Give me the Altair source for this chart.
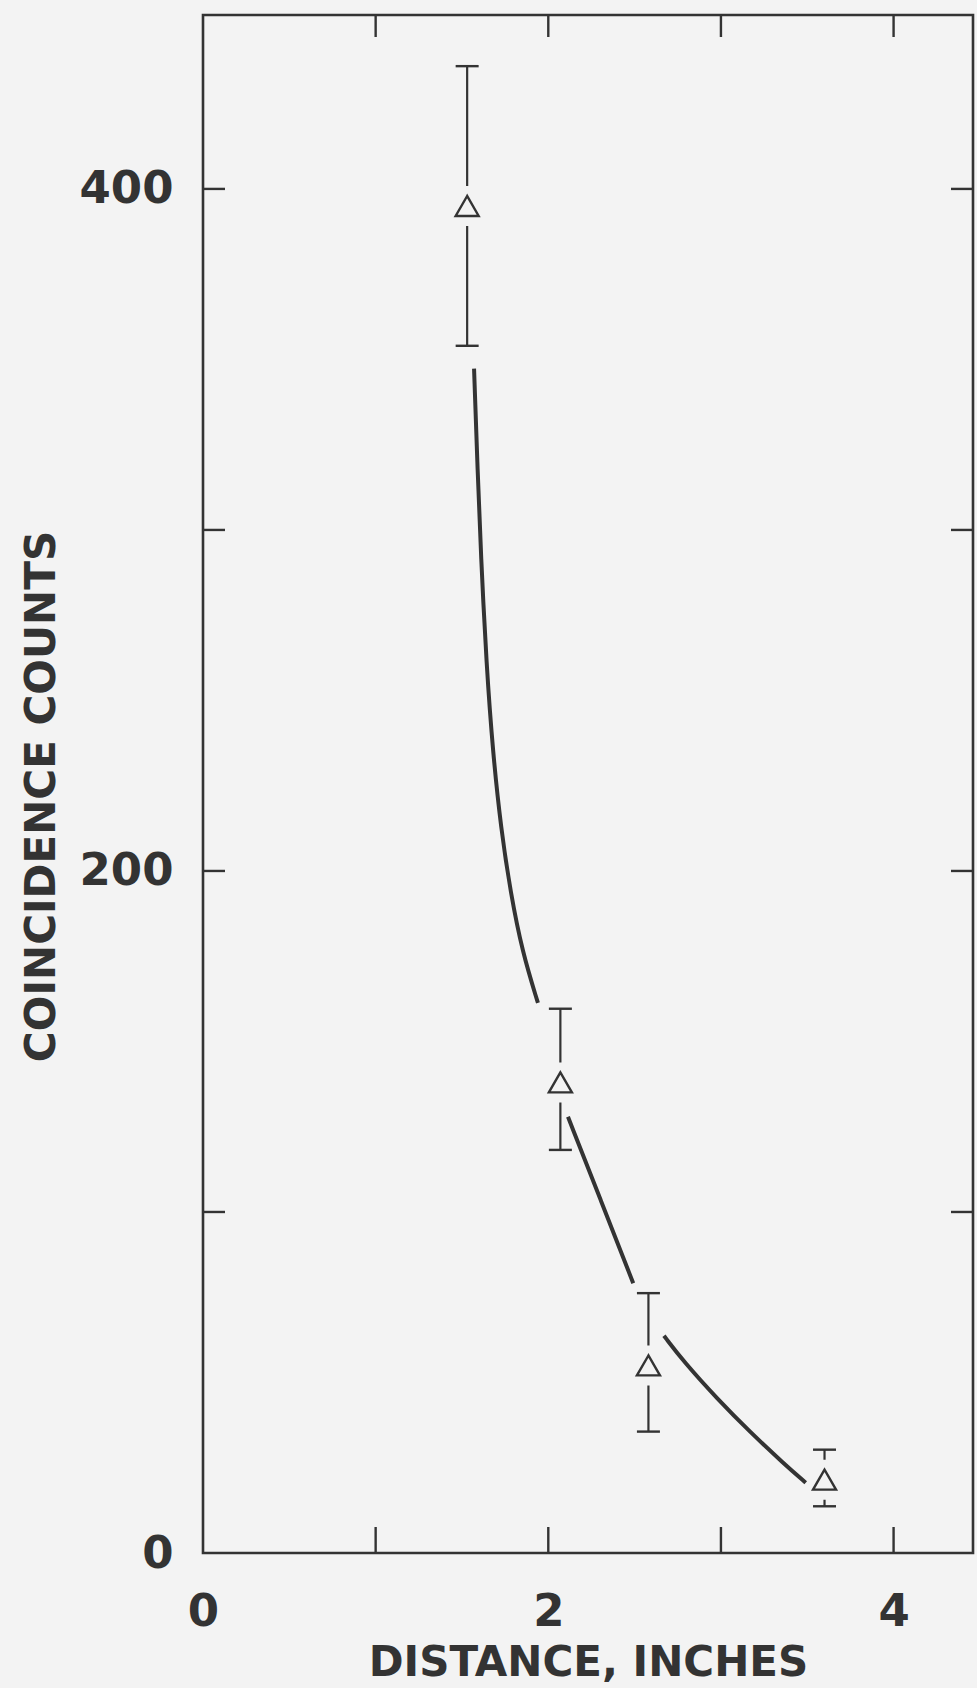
import altair as alt
import pandas as pd

# ---- data ----
distance = [1.53, 2.07, 2.58, 3.60]
counts = [395, 138, 55, 21.5]
err_hi = [436, 159.6, 76.2, 30.3]
err_lo = [354, 118.2, 35.6, 13.7]

curve_seg = [1, 1, 1, 1, 1, 1, 1, 1, 1,
             2, 2, 2,
             3, 3, 3, 3, 3, 3]
curve_x = [1.570, 1.589, 1.610, 1.642, 1.679, 1.726, 1.782, 1.850, 1.940,
           2.114, 2.303, 2.492,
           2.670, 2.786, 2.979, 3.172, 3.365, 3.491]
curve_y = [347.3, 319.6, 292.2, 260.3, 234.8, 212.4, 193.5, 176.2, 161.3,
           127.9, 103.6, 79.1,
           63.7, 56.0, 45.2, 35.3, 26.2, 20.6]

x_tick_values = [1, 2, 3, 4]
y_tick_values = [100, 200, 300, 400]
x_label_values = [0, 2, 4]
y_label_values = [0, 200, 400]

# ---- styling ----
BG = "#f3f3f3"
INK = "#333333"
W, H = 770, 1538
FONT = "DejaVu Sans"

pts = pd.DataFrame({"x": distance, "y": counts, "hi": err_hi, "lo": err_lo})
caps = pd.DataFrame({"x": distance * 2, "y": err_hi + err_lo})
curve = pd.DataFrame({"seg": curve_seg, "x": curve_x, "y": curve_y})
xt = pd.DataFrame({"v": x_tick_values})
yt = pd.DataFrame({"v": y_tick_values})

xscale = alt.Scale(domain=[0, 4.46], nice=False, zero=False)
yscale = alt.Scale(domain=[0, 451], nice=False, zero=False)

xaxis = alt.Axis(values=x_label_values, title="DISTANCE, INCHES", grid=False,
                 domain=False, ticks=False, tickSize=0, labelPadding=36,
                 labelFontSize=45, labelFont=FONT, labelColor=INK,
                 labelFontWeight="bold",
                 titleFontSize=42, titleFont=FONT, titleColor=INK,
                 titleFontWeight="bold", titleBaseline="middle",
                 titleY=109, labelFlush=False)
yaxis = alt.Axis(values=y_label_values, title="COINCIDENCE COUNTS", grid=False,
                 domain=False, ticks=False, tickSize=0, labelPadding=30,
                 labelFontSize=45, labelFont=FONT, labelColor=INK,
                 labelFontWeight="bold",
                 titleFontSize=42, titleFont=FONT, titleColor=INK,
                 titleFontWeight="bold", titleBaseline="middle",
                 titleX=-162, titleY=781, labelFlush=False)


def X(field):
    return alt.X(field, type="quantitative", scale=xscale, axis=xaxis)


def Y(field):
    return alt.Y(field, type="quantitative", scale=yscale, axis=yaxis)


bars = alt.Chart(pts).mark_rule(color=INK, strokeWidth=2.2).encode(
    x=X("x"), y=Y("lo"), y2="hi:Q",
)
cap_marks = alt.Chart(caps).mark_tick(orient="horizontal", color=INK, size=23,
                                      thickness=2.4, opacity=1).encode(
    x=X("x"), y=Y("y"),
)
mask = alt.Chart(pts).mark_point(shape="square", filled=True, size=1600,
                                 color=BG, opacity=1, strokeWidth=0).encode(
    x=X("x"), y=Y("y"),
)
tri = alt.Chart(pts).mark_point(shape="triangle-up", filled=False, size=529,
                                color=INK, strokeWidth=2.4, opacity=1).encode(
    x=X("x"), y=Y("y"),
)
line = alt.Chart(curve).mark_line(color=INK, strokeWidth=4,
                                  interpolate="basis").encode(
    x=X("x"), y=Y("y"), detail="seg:N",
)

tick_len = 22
bottom_ticks = alt.Chart(xt).mark_rule(color=INK, strokeWidth=2.4).encode(
    x=X("v"), y=alt.value(H), y2=alt.value(H - 26))
top_ticks = alt.Chart(xt).mark_rule(color=INK, strokeWidth=2.4).encode(
    x=X("v"), y=alt.value(0), y2=alt.value(tick_len))
left_ticks = alt.Chart(yt).mark_rule(color=INK, strokeWidth=2.4).encode(
    y=Y("v"), x=alt.value(0), x2=alt.value(tick_len))
right_ticks = alt.Chart(yt).mark_rule(color=INK, strokeWidth=2.4).encode(
    y=Y("v"), x=alt.value(W), x2=alt.value(W - tick_len))

chart = alt.layer(
    bars, cap_marks, mask, tri, line,
    bottom_ticks, top_ticks, left_ticks, right_ticks,
).properties(
    width=W, height=H,
    autosize=alt.AutoSizeParams(type="none"),
    padding={"left": 203, "top": 15, "right": 4, "bottom": 135},
    background=BG,
).configure_view(
    stroke=INK, strokeWidth=2.6,
)

chart.save("out.html", embed_options={"renderer": "svg", "actions": False})
